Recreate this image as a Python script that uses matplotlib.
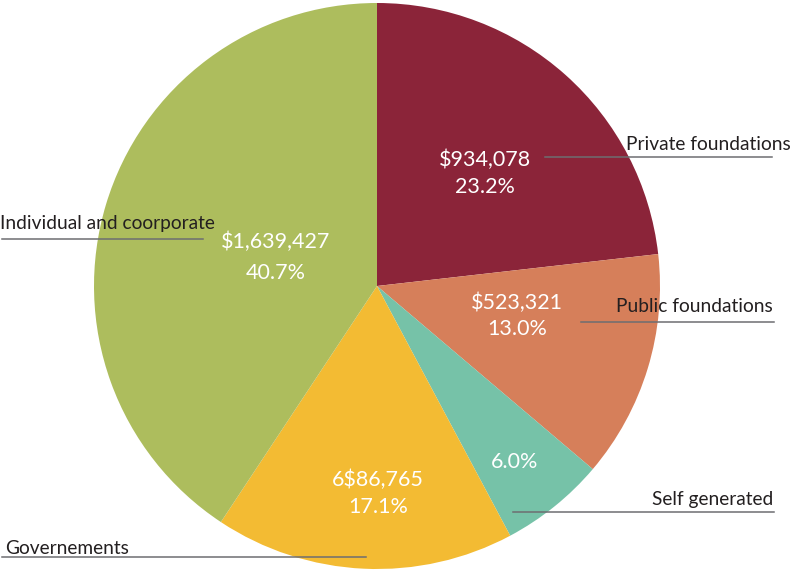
import matplotlib
matplotlib.use("Agg")
import matplotlib.pyplot as plt

categories = ["Private foundations", "Public foundations", "Self generated",
              "Governements", "Individual and coorporate"]
percent = [23.2, 13.0, 6.0, 17.1, 40.7]
amounts = ["$934,078", "$523,321", "", "6$86,765", "$1,639,427"]
colors = ["#8B2439", "#D67F5A", "#76C2A8", "#F3BB33", "#ADBD5D"]

W, H = 794, 571
fig = plt.figure(figsize=(W / 100, H / 100), dpi=100)
ax = fig.add_axes([0, 0, 1, 1])

def Y(y):
    return H - y

ax.pie(percent, colors=colors, startangle=90, counterclock=False,
       center=(377, Y(286)), radius=283, frame=True,
       wedgeprops=dict(linewidth=0))
ax.set_xlim(0, W)
ax.set_ylim(0, H)
ax.axis("off")

font = "Lato"
# inner labels: (x, y_amount, y_percent)
inner_pos = [(485, 160, 187), (517, 303, 329), (515, 462, 462),
             (378, 480, 507), (276, 242, 273)]
for (x, ya, yp), amt, p in zip(inner_pos, amounts, percent):
    if amt:
        ax.text(x, Y(ya), amt, color="white", fontsize=15.5, family=font,
                ha="center", va="center")
    ax.text(x, Y(yp), f"{p:.1f}%", color="white", fontsize=15.5, family=font,
            ha="center", va="center")

# outer labels: (text_x, text_y, ha, line_x0, line_x1, line_y)
outer_pos = [(791, 145, "right", 545, 772, 157),
             (773, 306, "right", 581, 774, 322),
             (773, 500, "right", 513, 774, 512),
             (5, 548, "left", 2, 366, 557),
             (0, 224, "left", 2, 203, 239)]
for (tx, ty, ha, x0, x1, ly), name in zip(outer_pos, categories):
    ax.plot([x0, x1], [Y(ly), Y(ly)], color="#6d6e71", lw=1.1)
    ax.text(tx, Y(ty), name, color="#231f20", fontsize=13.8, family=font,
            ha=ha, va="center")

fig.savefig("out.png", dpi=100)
